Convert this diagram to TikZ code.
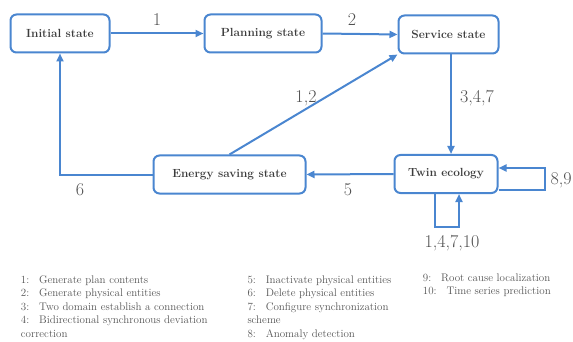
\documentclass[tikz,border=0pt]{standalone}
\usepackage{fontspec}
\usetikzlibrary{arrows.meta,calc}

\definecolor{lineblue}{RGB}{74,134,208}
\definecolor{boxtext}{RGB}{60,60,60}
\definecolor{labeltext}{RGB}{80,80,80}
\definecolor{legendtext}{RGB}{85,85,85}

% gap between an item number and its description
\newcommand{\legendgap}{:\hspace{0.9em}}

\begin{document}
\begin{tikzpicture}[x=1pt,y=-1pt,
  state/.style={draw=lineblue, line width=2pt, rounded corners=6pt, fill=white,
    inner sep=0pt, minimum height=38pt,
    font=\fontsize{11.8}{14}\selectfont\bfseries, text=boxtext},
  flow/.style={draw=lineblue, line width=2pt, -{Triangle[length=8pt,width=7pt]}},
  elabel/.style={font=\fontsize{18}{20}\selectfont, text=labeltext, inner sep=0pt},
  legend/.style={font=\fontsize{11}{13.5}\selectfont, text=legendtext,
    inner sep=0pt, anchor=base west}]

\useasboundingbox (0,0) rectangle (573,342);

% lifecycle states
\node[state, minimum width=99pt]  (init)   at (60,33.5)    {Initial state};
\node[state, minimum width=117pt] (plan)   at (263,33.5)   {Planning state};
\node[state, minimum width=100pt] (svc)    at (448.5,34.5) {Service state};
\node[state, minimum width=152pt] (energy) at (229.5,174.5) {Energy saving state};
\node[state, minimum width=103pt] (twin)   at (446,174)    {Twin ecology};

% transitions
\draw[flow] (init.east) -- (plan.west);
\draw[flow] (plan.east) -- (svc.west);
\draw[flow] ([xshift=2.5pt]svc.south) -- ([xshift=2.5pt]svc.south |- twin.north);
\draw[flow] (twin.west) -- (energy.east);
\draw[flow] (energy.west) -| (init.south);
\draw[flow] (energy.north) -- (svc.south west);

% self loops on the twin ecology
\coordinate (loopRout) at ([yshift=-16pt]twin.east);
\coordinate (loopRin)  at ([yshift=6pt]twin.east);
\draw[flow] (loopRout) -- ++(46,0) |- (loopRin);
\coordinate (loopBout) at ([xshift=-11pt]twin.south);
\coordinate (loopBin)  at ([xshift=13pt]twin.south);
\draw[flow] (loopBout) -- ++(0,33) -| (loopBin);

% transition labels
\node[elabel] (lab1)   at (157,20)  {1};
\node[elabel] (lab2)   at (352,20)  {2};
\node[elabel] (lab347) at (477,98)  {3,4,7};
\node[elabel] (lab12)  at (306,98)  {1,2};
\node[elabel] (lab6)   at (80,190)  {6};
\node[elabel] (lab5)   at (348,190) {5};
\node[elabel, anchor=west] (lab89) at (550.5,180) {8,9};
\node[elabel] (lab14710) at (452,243) {1,4,7,10};

% legend
\node[legend] (g1)  at (20.7,283)   {1\legendgap Generate plan contents};
\node[legend] (g2)  at (20.7,296.5) {2\legendgap Generate physical entities};
\node[legend] (g3)  at (20.7,310)   {3\legendgap Two domain establish a connection};
\node[legend] (g4)  at (20.7,323.5) {4\legendgap Bidirectional synchronous deviation};
\node[legend] (g4b) at (20.7,337.5) {correction};

\node[legend] (g5)  at (247.3,283)   {5\legendgap Inactivate physical entities};
\node[legend] (g6)  at (247.3,296.5) {6\legendgap Delete physical entities};
\node[legend] (g7)  at (247.3,310)   {7\legendgap Configure synchronization};
\node[legend] (g7b) at (247.3,323.5) {scheme};
\node[legend] (g8)  at (247.3,337.5) {8\legendgap Anomaly detection};

\node[legend] (g9)  at (422.7,281) {9\legendgap Root cause localization};
\node[legend] (g10) at (422.7,294) {10\legendgap Time series prediction};
\end{tikzpicture}
\end{document}
